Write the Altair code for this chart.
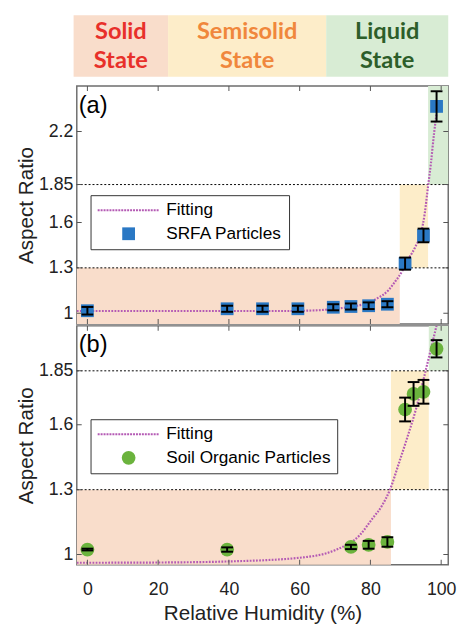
import altair as alt
import pandas as pd

# ---------------- data ----------------
states = ["Solid", "Semisolid", "Liquid"]
state_line2 = ["State", "State", "State"]
header_start = [-3.9, 22.8, 67.5]
header_end = [22.8, 67.5, 102.0]

# panel (a) SRFA
rh_a = [0, 39.5, 49.5, 59.5, 69.5, 74.5, 79.5, 84.8, 89.8, 95.0, 98.7]
ar_a = [1.017, 1.03, 1.03, 1.03, 1.04, 1.045, 1.05, 1.06, 1.328, 1.514, 2.366]
err_a = [0.025, 0.02, 0.02, 0.02, 0.02, 0.02, 0.022, 0.02, 0.04, 0.045, 0.1]
fit_rh_a = [-3, 0, 20, 40, 55, 65, 70, 75, 80, 82, 85, 87, 89, 90, 92.5, 94.4, 95.3, 96.2, 97.1, 98, 98.7]
fit_ar_a = [1.015, 1.015, 1.015, 1.015, 1.015, 1.02, 1.03, 1.045, 1.075, 1.1, 1.15, 1.21, 1.28,
            1.33, 1.43, 1.54, 1.65, 1.82, 1.99, 2.19, 2.32]
reg_x0_a = [-3, 88.3, 96.3]
reg_x1_a = [88.3, 96.3, 102]
reg_y0_a = [0.93, 1.3, 1.85]
reg_y1_a = [1.3, 1.85, 2.5]

# panel (b) soil organic
rh_b = [0, 39.5, 74.5, 79.5, 84.8, 89.8, 92.2, 95.0, 98.7]
ar_b = [1.023, 1.023, 1.035, 1.045, 1.058, 1.671, 1.743, 1.753, 1.952]
err_b = [0.004, 0.01, 0.01, 0.018, 0.022, 0.055, 0.055, 0.055, 0.04]
fit_rh_b = [-3, 0, 20, 40, 60, 70, 77, 80.5, 83.3, 85.6, 88, 90.2, 93, 95.3, 97.6, 99]
fit_ar_b = [0.962, 0.962, 0.963, 0.968, 0.985, 1.02, 1.09, 1.165, 1.227, 1.303, 1.42, 1.53,
            1.68, 1.83, 1.985, 2.08]
reg_x0_b = [-3, 85.8, 96.5]
reg_x1_b = [85.8, 96.5, 102]
reg_y0_b = [0.953, 1.3, 1.85]
reg_y1_b = [1.3, 1.85, 2.058]

thresholds = [1.3, 1.85]
x_ticks = [0, 20, 40, 60, 80, 100]
y_ticks_a = [1, 1.3, 1.6, 1.85, 2.2]
y_ticks_b = [1, 1.3, 1.6, 1.85]

# ---------------- styles ----------------
FONT = "Liberation Sans"
W = 378
H_HEAD, H_A, H_B = 70, 242, 243
X_DOM = [-3, 102]
region_colors = ["#F9DDCB", "#FDEDC9", "#D8ECD4"]
text_colors = ["#E8302A", "#F0873C", "#2D5E2A"]
PURPLE = "#B45AB4"
BLUE = "#2A78C4"
GREEN = "#6BB33D"
TICK_COL = "#555555"


def dotted_path(unit_px, length_px=63.0, dot_px=2.0, period_px=3.0):
    half = length_px / 2 / unit_px
    d = dot_px / unit_px
    step = period_px / unit_px
    n = int((2 * half - d) / step) + 1
    parts = []
    for i in range(n):
        x0 = -half + i * step
        parts.append(f"M{x0:.3f},{-d / 2:.3f}h{d:.3f}v{d:.3f}h{-d:.3f}z")
    return "".join(parts)


def panel(label, rh, ar, err, fit_rh, fit_ar, rx0, rx1, ry0, ry1, ydom, yticks,
          series, mcolor, mshape, msize, height, show_x, legend_y):
    xs = alt.Scale(domain=X_DOM, nice=False, zero=False)
    ys = alt.Scale(domain=ydom, nice=False, zero=False)
    if show_x:
        xa = alt.Axis(values=x_ticks, tickSize=0, labelPadding=16, domain=False, grid=False,
                      title="Relative Humidity (%)", titlePadding=5, labelFontSize=18,
                      titleFontSize=21, labelFont=FONT, titleFont=FONT, labelColor="#222",
                      titleColor="#222", titleFontWeight="normal")
    else:
        xa = None
    ya = alt.Axis(values=yticks, format=".3~g", tickSize=0, labelPadding=4, domain=False,
                  grid=False, title="Aspect Ratio", titlePadding=2, labelFontSize=18,
                  titleFontSize=21, labelFont=FONT, titleFont=FONT, labelColor="#222",
                  titleColor="#222", titleFontWeight="normal")

    def X(f):
        return alt.X(f, scale=xs, axis=xa)

    def Y(f):
        return alt.Y(f, scale=ys, axis=ya)

    reg = pd.DataFrame({"state": states, "x0": rx0, "x1": rx1, "y0": ry0, "y1": ry1})
    regions = alt.Chart(reg).mark_rect().encode(
        x=X("x0:Q"), x2="x1:Q", y=Y("y0:Q"), y2="y1:Q",
        fill=alt.Fill("state:N", scale=alt.Scale(domain=states, range=region_colors), legend=None),
    )
    hl = alt.Chart(pd.DataFrame({"t": thresholds})).mark_rule(
        color="black", strokeDash=[2, 2], strokeWidth=1).encode(y=Y("t:Q"))

    fit = alt.Chart(pd.DataFrame({"rh": fit_rh, "ar": fit_ar})).mark_line(
        color=PURPLE, strokeDash=[1.8, 1.4], strokeWidth=2.2, interpolate="monotone", clip=True
    ).encode(x=X("rh:Q"), y=Y("ar:Q"))

    pts_df = pd.DataFrame({"rh": rh, "ar": ar, "err": err, "series": series})
    domain = ["Fitting", series]
    unit = (msize ** 0.5) / 2
    leg = alt.Legend(title=None, orient="none", legendX=14, legendY=legend_y,
                     strokeColor="#333333", fillColor="white", padding=6.5,
                     symbolSize=msize, symbolOffset=23.5, labelOffset=29.5, labelFont=FONT,
                     labelFontSize=17.5, labelColor="black", rowPadding=5, labelLimit=400,
                     symbolOpacity=1, symbolStrokeWidth=0)
    pts = alt.Chart(pts_df).mark_point(filled=True, size=msize, opacity=1).encode(
        x=X("rh:Q"), y=Y("ar:Q"),
        color=alt.Color("series:N", scale=alt.Scale(domain=domain, range=[PURPLE, mcolor]), legend=leg),
        shape=alt.Shape("series:N", scale=alt.Scale(domain=domain, range=[dotted_path(unit), mshape]),
                        legend=leg),
    )
    eb = alt.Chart(pts_df).transform_calculate(
        lo="datum.ar - datum.err", hi="datum.ar + datum.err")
    rules = eb.mark_rule(color="black", strokeWidth=2).encode(x=X("rh:Q"), y=Y("lo:Q"), y2="hi:Q")
    cap_lo = eb.mark_tick(color="black", orient="horizontal", size=12, thickness=2, opacity=1).encode(
        x=X("rh:Q"), y=Y("lo:Q"))
    cap_hi = eb.mark_tick(color="black", orient="horizontal", size=12, thickness=2, opacity=1).encode(
        x=X("rh:Q"), y=Y("hi:Q"))

    xt = alt.Chart(pd.DataFrame({"v": x_ticks}))
    ticks_top = xt.mark_tick(orient="vertical", size=10, thickness=1, color=TICK_COL, clip=True,
                             opacity=1).encode(x=X("v:Q"), y=alt.value(0))
    ticks_bot = xt.mark_tick(orient="vertical", size=10, thickness=1, color=TICK_COL, clip=True,
                             opacity=1).encode(x=X("v:Q"), y=alt.value(height))
    yt = alt.Chart(pd.DataFrame({"v": yticks}))
    ticks_left = yt.mark_tick(orient="horizontal", size=10, thickness=1, color=TICK_COL, clip=True,
                              opacity=1).encode(y=Y("v:Q"), x=alt.value(0))
    ticks_right = yt.mark_tick(orient="horizontal", size=10, thickness=1, color=TICK_COL, clip=True,
                               opacity=1).encode(y=Y("v:Q"), x=alt.value(W))

    lab = alt.Chart(pd.DataFrame({"t": [label]})).mark_text(
        align="left", baseline="middle", fontSize=24, font=FONT, color="black"
    ).encode(text="t:N", x=alt.value(2), y=alt.value(20))

    return alt.layer(regions, hl, fit, pts, rules, cap_lo, cap_hi,
                     ticks_top, ticks_bot, ticks_left, ticks_right, lab).properties(
        width=W, height=height,
        view=alt.ViewBackground(stroke="#6E6E6E", strokeWidth=1.5))


# header
hdr = pd.DataFrame({"state": states, "line2": state_line2, "x0": header_start, "x1": header_end})
hxs = alt.Scale(domain=X_DOM, nice=False, zero=False)
hbase = alt.Chart(hdr)
hrect = hbase.mark_rect().encode(
    x=alt.X("x0:Q", scale=hxs, axis=None), x2="x1:Q",
    y=alt.value(0), y2=alt.value(62.5),
    fill=alt.Fill("state:N", scale=alt.Scale(domain=states, range=region_colors), legend=None),
)
tcol = alt.Color("state:N", scale=alt.Scale(domain=states, range=text_colors), legend=None)
tbase = hbase.transform_calculate(mid="(datum.x0 + datum.x1) / 2")
htext1 = tbase.mark_text(font="Lato", fontWeight="bold", fontSize=24, baseline="middle",
                         align="center").encode(
    x=alt.X("mid:Q", scale=hxs, axis=None), y=alt.value(17), text="state:N", color=tcol)
htext2 = tbase.mark_text(font="Lato", fontWeight="bold", fontSize=24, baseline="middle",
                         align="center").encode(
    x=alt.X("mid:Q", scale=hxs, axis=None), y=alt.value(47), text="line2:N", color=tcol)
header = alt.layer(hrect, htext1, htext2).properties(
    width=W, height=H_HEAD, view=alt.ViewBackground(stroke="transparent"))

pa = panel("(a)", rh_a, ar_a, err_a, fit_rh_a, fit_ar_a, reg_x0_a, reg_x1_a, reg_y0_a, reg_y1_a,
           [0.93, 2.5], y_ticks_a, "SRFA Particles", BLUE, "square", 169, H_A, False, 111)
pb = panel("(b)", rh_b, ar_b, err_b, fit_rh_b, fit_ar_b, reg_x0_b, reg_x1_b, reg_y0_b, reg_y1_b,
           [0.953, 2.058], y_ticks_b, "Soil Organic Particles", GREEN, "circle", 196, H_B, True, 95)

chart = alt.vconcat(header, pa, pb, spacing=0).resolve_scale(
    color="independent", shape="independent", fill="independent"
).resolve_legend(color="independent", shape="independent").properties(
    padding={"left": 7, "top": 1, "right": 5, "bottom": 0}
).configure(background="white")

chart.save("out.html", embed_options={"renderer": "svg", "actions": False})
